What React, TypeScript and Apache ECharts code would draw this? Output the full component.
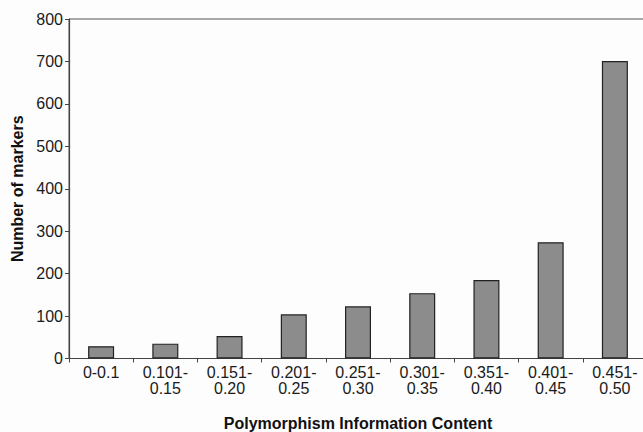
import React, { useEffect, useRef } from "react";
import * as echarts from "echarts";

const categories = [
  "0-0.1",
  "0.101-\n0.15",
  "0.151-\n0.20",
  "0.201-\n0.25",
  "0.251-\n0.30",
  "0.301-\n0.35",
  "0.351-\n0.40",
  "0.401-\n0.45",
  "0.451-\n0.50",
];
const markerCounts = [29, 35, 53, 104, 123, 154, 185, 274, 701];
const xTitle = "Polymorphism Information Content";
const yTitle = "Number of markers";

const FONT = "'Liberation Sans', Arial, Helvetica, sans-serif";

export default function App() {
  const ref = useRef<HTMLDivElement>(null);
  useEffect(() => {
    if (!ref.current) return;
    const chart = echarts.init(ref.current, undefined, { renderer: "svg" });
    chart.setOption({
      animation: false,
      backgroundColor: "#fdfdfd",
      grid: {
        left: 69,
        top: 19,
        right: 0,
        bottom: 73.5,
        containLabel: false,
        outerBoundsMode: "none",
        show: true,
        borderColor: "#555",
        borderWidth: 1,
        backgroundColor: "transparent",
      },
      xAxis: {
        type: "category",
        data: categories,
        name: xTitle,
        nameLocation: "middle",
        nameGap: 57,
        nameTextStyle: {
          fontFamily: FONT,
          fontWeight: "bold",
          fontSize: 16,
          color: "#111",
        },
        axisLine: { show: true, lineStyle: { color: "#444", width: 1.2 } },
        axisTick: {
          show: true,
          alignWithLabel: false,
          length: 4,
          lineStyle: { color: "#444" },
        },
        axisLabel: {
          fontFamily: FONT,
          fontSize: 16,
          color: "#1a1a1a",
          margin: 6,
          lineHeight: 16,
          interval: 0,
        },
        splitLine: { show: false },
      },
      yAxis: {
        type: "value",
        min: 0,
        max: 800,
        interval: 100,
        name: yTitle,
        nameLocation: "middle",
        nameGap: 44,
        nameTextStyle: {
          fontFamily: FONT,
          fontWeight: "bold",
          fontSize: 16,
          color: "#111",
        },
        axisLine: { show: true, lineStyle: { color: "#444", width: 1.2 } },
        axisTick: { show: true, length: 4, lineStyle: { color: "#444" } },
        axisLabel: {
          fontFamily: FONT,
          fontSize: 16,
          color: "#1a1a1a",
          margin: 6,
        },
        splitLine: { show: false },
      },
      series: [
        {
          type: "bar",
          data: markerCounts,
          barWidth: 26,
          itemStyle: {
            color: "#8c8c8c",
            borderColor: "#222",
            borderWidth: 1.2,
          },
        },
      ],
    });
    return () => chart.dispose();
  }, []);
  return (
    <div
      style={{
        position: "fixed",
        left: 0,
        top: 0,
        width: 643,
        height: 432,
        overflow: "hidden",
      }}
    >
      <div ref={ref} style={{ width: 647, height: 432 }} />
    </div>
  );
}
